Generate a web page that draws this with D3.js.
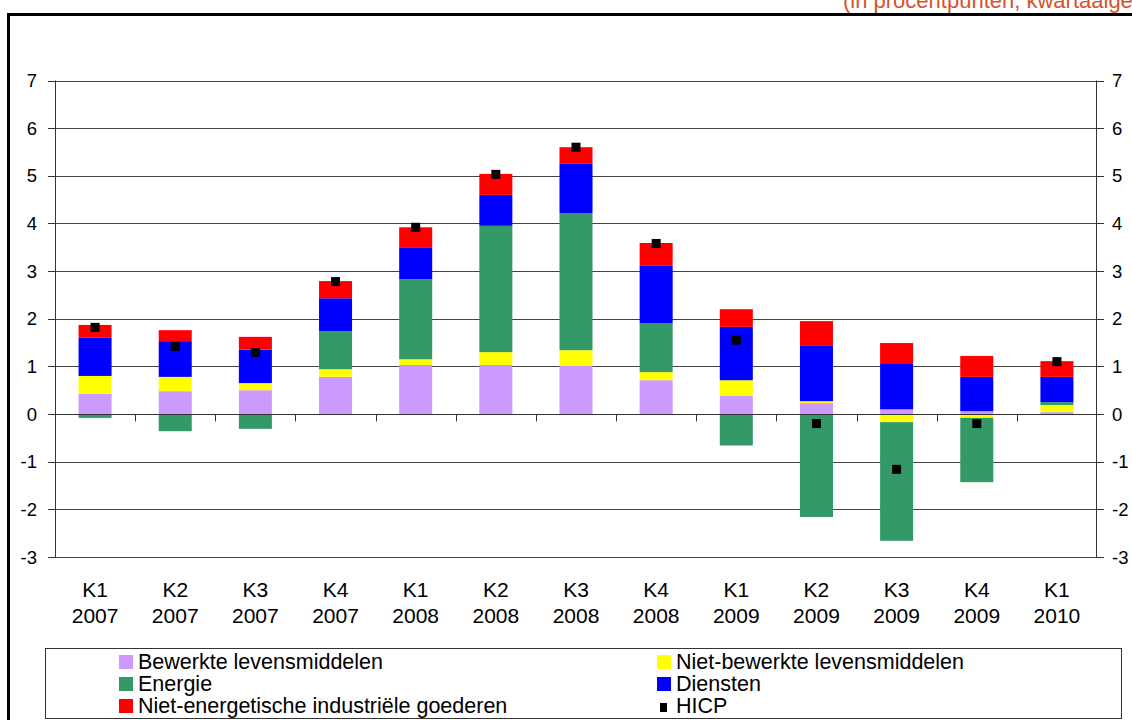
<!DOCTYPE html>
<html><head><meta charset="utf-8">
<script src="https://cdn.jsdelivr.net/npm/d3@7"></script>
<style>
html,body{margin:0;padding:0;background:#fff;}
svg{display:block;font-family:"Liberation Sans",Arial,sans-serif;}
</style></head>
<body><svg id="c" width="1132" height="720"></svg>
<script>
const categories = ["K1 2007","K2 2007","K3 2007","K4 2007","K1 2008","K2 2008","K3 2008","K4 2008","K1 2009","K2 2009","K3 2009","K4 2009","K1 2010"];
const bewerkte     = [0.42,0.48,0.50,0.78,1.03,1.03,1.01,0.71,0.38,0.23,0.10,0.06,0.04];
const nietBewerkte = [0.38,0.30,0.15,0.16,0.12,0.27,0.33,0.17,0.33,0.04,-0.17,-0.08,0.15];
const energie      = [-0.08,-0.36,-0.31,0.80,1.68,2.65,2.88,1.03,-0.66,-2.16,-2.49,-1.35,0.06];
const diensten     = [0.80,0.75,0.70,0.69,0.67,0.65,1.03,1.20,1.12,1.16,0.95,0.72,0.53];
const nietEnerg    = [0.27,0.23,0.27,0.36,0.42,0.44,0.35,0.48,0.37,0.52,0.44,0.44,0.33];
const hicp         = [1.82,1.42,1.29,2.78,3.92,5.03,5.60,3.58,1.55,-0.20,-1.16,-0.20,1.10];
const yTicks = [-3,-2,-1,0,1,2,3,4,5,6,7];
const seriesNames = ["Bewerkte levensmiddelen","Niet-bewerkte levensmiddelen","Energie","Diensten","Niet-energetische industriële goederen"];
const seriesColors = ["#cc99ff","#ffff00","#339966","#0000ff","#ff0000"];
const seriesData = [bewerkte,nietBewerkte,energie,diensten,nietEnerg];
const subtitle = "(in procentpunten; kwartaalgegevens)";

const svg = d3.select("#c");
const L = 55, R = 1097, T = 80.5, B = 557;
const x = d3.scaleBand().domain(categories).range([L,R]).paddingInner(0.588).paddingOuter(0.294);
const y = d3.scaleLinear().domain([-3,7]).range([B,T]);
const step = x.step();

// outer frame
svg.append("rect").attr("x",8.5).attr("y",14.5).attr("width",1300).attr("height",900)
  .attr("fill","none").attr("stroke","#000").attr("stroke-width",3);
svg.append("text").attr("x",843).attr("y",8).attr("font-size",22).attr("fill","#d4532e").text(subtitle);

// gridlines
svg.append("g").selectAll("line").data(yTicks).join("line")
  .attr("x1",L).attr("x2",R).attr("y1",d=>Math.round(y(d))+0.5).attr("y2",d=>Math.round(y(d))+0.5)
  .attr("stroke","#444").attr("stroke-width",1);

// stacked bars
const table = categories.map((c,i)=>{const o={cat:c}; seriesNames.forEach((s,j)=>o[s]=seriesData[j][i]); return o;});
const stack = d3.stack().keys(seriesNames).order(d3.stackOrderNone).offset(d3.stackOffsetDiverging)(table);
svg.append("g").selectAll("g").data(stack).join("g").attr("fill",(d,i)=>seriesColors[i])
  .selectAll("rect").data(d=>d).join("rect")
  .attr("x",d=>x(d.data.cat)).attr("width",x.bandwidth())
  .attr("y",d=>y(Math.max(d[0],d[1]))).attr("height",d=>Math.abs(y(d[0])-y(d[1])));

// axes lines
const ax = svg.append("g").attr("stroke","#333").attr("stroke-width",1);
ax.append("line").attr("x1",L+0.5).attr("x2",L+0.5).attr("y1",T).attr("y2",B);
ax.append("line").attr("x1",R-0.5).attr("x2",R-0.5).attr("y1",T).attr("y2",B);
const y0 = Math.round(y(0))+0.5;
ax.append("line").attr("x1",L).attr("x2",R).attr("y1",y0).attr("y2",y0);
ax.selectAll(".lt").data(yTicks).join("line").attr("class","lt")
  .attr("x1",48).attr("x2",L).attr("y1",d=>Math.round(y(d))+0.5).attr("y2",d=>Math.round(y(d))+0.5);
ax.selectAll(".rt").data(yTicks).join("line").attr("class","rt")
  .attr("x1",R).attr("x2",R+7).attr("y1",d=>Math.round(y(d))+0.5).attr("y2",d=>Math.round(y(d))+0.5);
ax.selectAll(".xt").data(categories.slice(1)).join("line").attr("class","xt")
  .attr("x1",d=>Math.round(x(d)-(step-x.bandwidth())/2)+0.5).attr("x2",d=>Math.round(x(d)-(step-x.bandwidth())/2)+0.5)
  .attr("y1",y0).attr("y2",y0+7);

// y labels
svg.append("g").selectAll("text").data(yTicks).join("text")
  .attr("x",37).attr("y",d=>y(d)+6.5).attr("text-anchor","end").attr("font-size",18.5).text(d=>d);
svg.append("g").selectAll("text").data(yTicks).join("text")
  .attr("x",1112).attr("y",d=>y(d)+6.5).attr("text-anchor","start").attr("font-size",18.5).text(d=>d);

// x labels
const xl = svg.append("g").selectAll("text").data(categories).join("text")
  .attr("text-anchor","middle").attr("font-size",21);
xl.append("tspan").attr("x",d=>x(d)+x.bandwidth()/2).attr("y",597).text(d=>d.split(" ")[0]);
xl.append("tspan").attr("x",d=>x(d)+x.bandwidth()/2).attr("y",623).text(d=>d.split(" ")[1]);

// HICP markers
svg.append("g").selectAll("rect").data(hicp).join("rect")
  .attr("x",(d,i)=>x(categories[i])+x.bandwidth()/2-4.5).attr("y",d=>y(d)-4.5)
  .attr("width",9).attr("height",9).attr("fill","#000");

// legend
svg.append("rect").attr("x",45.5).attr("y",648.5).attr("width",1076).attr("height",70)
  .attr("fill","none").attr("stroke","#333").attr("stroke-width",1);
const legendItems = [
  {name:seriesNames[0],color:seriesColors[0],col:0,row:0},
  {name:seriesNames[1],color:seriesColors[1],col:1,row:0},
  {name:seriesNames[2],color:seriesColors[2],col:0,row:1},
  {name:seriesNames[3],color:seriesColors[3],col:1,row:1},
  {name:seriesNames[4],color:seriesColors[4],col:0,row:2},
  {name:"HICP",color:"#000",col:1,row:2,marker:true}
];
const colX = [119,657], rowBase = [669,691,713];
const lg = svg.append("g").selectAll("g").data(legendItems).join("g");
lg.append("rect")
  .attr("x",d=>d.marker?colX[d.col]+3:colX[d.col]).attr("y",d=>d.marker?rowBase[d.row]-10:rowBase[d.row]-14)
  .attr("width",d=>d.marker?7:14).attr("height",d=>d.marker?9:14).attr("fill",d=>d.color);
lg.append("text").attr("x",d=>colX[d.col]+19).attr("y",d=>rowBase[d.row]).attr("font-size",21.5).text(d=>d.name);
</script></body></html>
